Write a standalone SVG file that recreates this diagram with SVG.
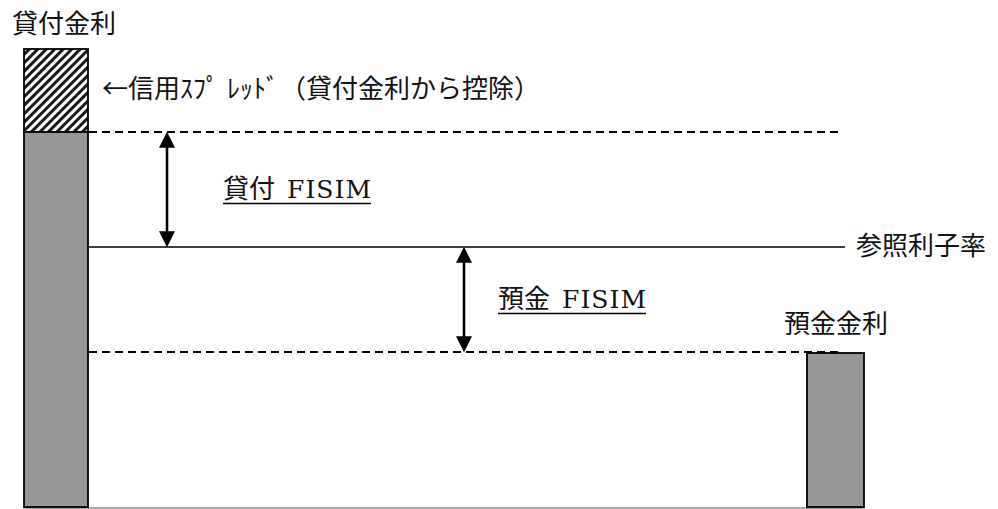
<svg xmlns="http://www.w3.org/2000/svg" width="998" height="509" viewBox="0 0 998 509">
  <style>
    .jp { font-family: "Noto Sans CJK JP", "Noto Sans", sans-serif; font-size: 26px; fill: #111; }
    .lat { font-family: "DejaVu Serif", "Liberation Serif", serif; font-size: 25px; }
    .bar { fill: #969696; stroke: #000; stroke-width: 1.8; }
    .dash { stroke: #000; stroke-width: 2; stroke-dasharray: 8 5; fill: none; }
    .solid { stroke: #000; stroke-width: 1.6; fill: none; }
    .arrow { stroke: #000; stroke-width: 2.6; fill: none; marker-start: url(#head); marker-end: url(#head); }
    .ul { stroke: #000; stroke-width: 1.6; }
  </style>
  <defs>
    <pattern id="hatch" patternUnits="userSpaceOnUse" width="6" height="6" patternTransform="rotate(45)">
      <rect width="6" height="6" fill="#fff"/>
      <rect width="3" height="6" fill="#1a1a1a"/>
    </pattern>
    <marker id="head" markerUnits="userSpaceOnUse" markerWidth="16" markerHeight="16" viewBox="0 0 15 15" refX="11" refY="7.5" orient="auto-start-reverse">
      <path d="M0,0 L15,7.5 L0,15 Z" fill="#000"/>
    </marker>
  </defs>
  <rect width="998" height="509" fill="#fff"/>

  <!-- baseline frame -->
  <line x1="24" y1="508" x2="864" y2="508" stroke="#8a8a8a" stroke-width="1.5"/>

  <g id="connectors">
    <line class="dash" x1="89" y1="132" x2="840" y2="132"/>
    <line class="solid" x1="89" y1="247" x2="845" y2="247"/>
    <line class="dash" x1="89" y1="352" x2="838" y2="352"/>
    <line class="arrow" x1="167" y1="136" x2="167" y2="243"/>
    <line class="arrow" x1="464" y1="251" x2="464" y2="348"/>
  </g>

  <g id="loan-bar">
    <rect x="24" y="49" width="64" height="83" fill="url(#hatch)" stroke="#000" stroke-width="1.8"/>
    <rect class="bar" x="24" y="132" width="64" height="375"/>
  </g>

  <g id="deposit-bar">
    <rect class="bar" x="807" y="353" width="57" height="154"/>
  </g>

  <g id="label-loan-rate">
    <text class="jp" x="12" y="33">貸付金利</text>
  </g>

  <g id="label-credit-spread">
    <text class="jp" x="102" y="98">←信用ｽﾌﾟ<tspan x="227">ﾚｯﾄﾞ</tspan><tspan x="280">（貸付金利から控除）</tspan></text>
  </g>

  <g id="label-loan-fisim">
    <text class="jp" x="223" y="198">貸付 <tspan class="lat" x="287" textLength="84" lengthAdjust="spacing">FISIM</tspan></text>
    <line class="ul" x1="223" y1="203.5" x2="371" y2="203.5"/>
  </g>

  <g id="label-reference-rate">
    <text class="jp" x="856" y="255">参照利子率</text>
  </g>

  <g id="label-deposit-fisim">
    <text class="jp" x="498" y="308">預金 <tspan class="lat" x="562" textLength="84" lengthAdjust="spacing">FISIM</tspan></text>
    <line class="ul" x1="498" y1="313.5" x2="646" y2="313.5"/>
  </g>

  <g id="label-deposit-rate">
    <text class="jp" x="784" y="333">預金金利</text>
  </g>
</svg>
